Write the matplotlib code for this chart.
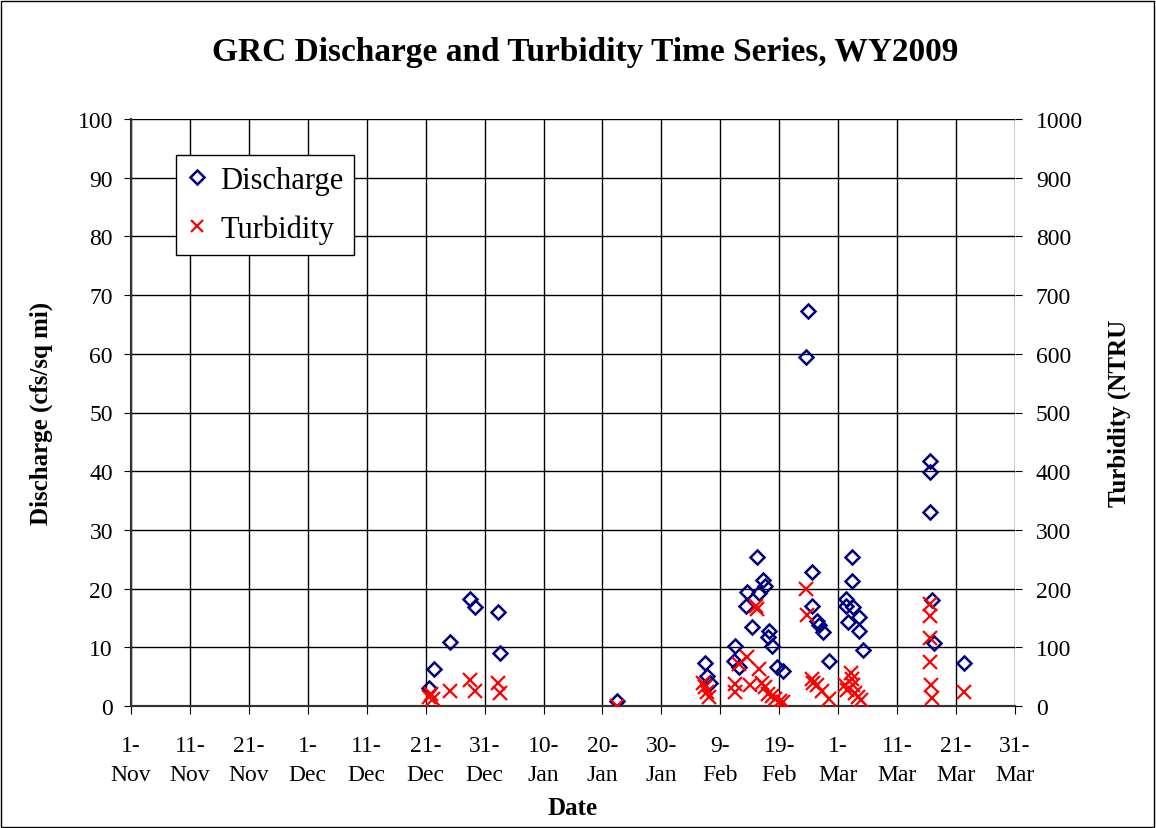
import matplotlib
matplotlib.use('Agg')
import matplotlib.pyplot as plt
from matplotlib.patches import Rectangle

plt.rcParams['font.family'] = ['Liberation Serif', 'DejaVu Serif']

# days since 1-Nov-2008
discharge_days = [50.6, 51.4, 54.2, 57.5, 58.4, 62.2, 62.6, 82.5,
                  97.4, 97.7, 98.3, 102.3, 102.5, 103.2, 104.3, 104.6, 105.3,
                  106.2, 106.6, 107.2, 107.6, 108.1, 108.3, 108.7, 109.7, 110.6,
                  114.5, 114.8, 115.5, 115.5, 116.4, 116.8, 117.4, 118.4,
                  121.3, 121.3, 121.6, 122.4, 122.4, 122.5, 123.5, 123.5, 124.2,
                  135.5, 135.5, 135.5, 135.9, 136.3, 141.3]
discharge = [3.0, 6.3, 10.9, 18.2, 16.9, 16.0, 9.0, 0.9,
             7.3, 5.1, 4.0, 7.7, 10.2, 6.6, 17.1, 19.4, 13.4,
             25.3, 19.3, 21.5, 20.4, 11.7, 12.8, 10.2, 6.7, 6.0,
             59.4, 67.3, 22.9, 17.1, 14.4, 13.8, 12.6, 7.6,
             18.3, 17.1, 14.3, 25.3, 21.3, 16.9, 15.2, 12.8, 9.5,
             41.7, 39.8, 33.0, 18.1, 10.8, 7.3]

turbidity_days = [50.5, 50.9, 51.2, 54.2, 57.5, 58.4, 62.2, 62.6, 82.5,
                  97.1, 97.4, 97.7, 98.0, 102.5, 102.5, 103.2, 104.5, 105.0,
                  106.1, 106.3, 106.5, 107.0, 107.6, 108.1, 108.7, 109.2, 110.1, 110.6,
                  114.5, 114.7, 115.5, 115.8, 116.4, 117.2, 118.4,
                  121.2, 121.5, 122.2, 122.3, 122.5, 122.9, 123.4, 123.9,
                  135.5, 135.5, 135.5, 135.5, 135.7, 135.9, 141.3]
turbidity = [15, 20, 12, 25, 44, 25, 40, 22, 0,
             40, 32, 23, 15, 37, 23, 72, 83, 35,
             171, 165, 63, 40, 32, 20, 17, 12, 9, 6,
             200, 155, 46, 40, 35, 26, 12,
             35, 27, 57, 46, 35, 22, 15, 10,
             174, 153, 115, 75, 35, 13, 23]

tick_days = list(range(0, 151, 10))
tick_labels = ['1-\nNov', '11-\nNov', '21-\nNov', '1-\nDec', '11-\nDec', '21-\nDec',
               '31-\nDec', '10-\nJan', '20-\nJan', '30-\nJan', '9-\nFeb', '19-\nFeb',
               '1-\nMar', '11-\nMar', '21-\nMar', '31-\nMar']

fig = plt.figure(figsize=(11.56, 8.29), dpi=100)
ax = fig.add_axes([131 / 1156, 1 - 707 / 829, 884 / 1156, 587 / 829])
ax2 = ax.twinx()

ax.set_xlim(0, 150)
ax.set_ylim(0, 100)
ax2.set_ylim(0, 1000)
ax.set_xticks(tick_days)
ax.set_xticklabels(tick_labels, fontsize=17, linespacing=1.5)
ax.set_yticks(range(0, 101, 10))
ax2.set_yticks(range(0, 1001, 100))
ax.tick_params(axis='y', labelsize=17, direction='out', length=5, pad=8)
ax2.tick_params(axis='y', labelsize=17, direction='out', length=5, pad=10)
ax.tick_params(axis='x', direction='out', length=6, pad=15)
ax.grid(True, color='black', lw=1)
ax.set_axisbelow(True)

for s in ['top', 'right']:
    ax.spines[s].set_visible(False)
    ax2.spines[s].set_visible(False)
for a in (ax, ax2):
    for s in a.spines.values():
        s.set_color('#333333')
        s.set_linewidth(1.5)

ax.plot(discharge_days, discharge, linestyle='none', marker='D', ms=7.5,
        mfc='none', mec='#000080', mew=1.8, label='Discharge', zorder=3)
ax2.plot(turbidity_days, turbidity, linestyle='none', marker='x', ms=10,
         color='red', mew=1.6, label='Turbidity', zorder=3)

ax.set_xlabel('Date', fontsize=18, fontweight='bold', labelpad=8)
ax.set_ylabel('Discharge (cfs/sq mi)', fontsize=18, fontweight='bold', labelpad=18)
ax2.set_ylabel('Turbidity (NTRU', fontsize=18, fontweight='bold', rotation=90, labelpad=18)
fig.text(0.506, 0.937, 'GRC Discharge and Turbidity Time Series, WY2009',
         ha='center', va='center', fontsize=24, fontweight='bold')

h1, l1 = ax.get_legend_handles_labels()
h2, l2 = ax2.get_legend_handles_labels()
leg = ax2.legend(h1 + h2, l1 + l2, loc='upper left', bbox_to_anchor=(0.051, 0.939),
                 borderaxespad=0, fontsize=22, frameon=True, fancybox=False,
                 edgecolor='black', markerscale=0.9, handlelength=0.7,
                 handletextpad=0.4, borderpad=0.35, labelspacing=0.65)
leg.get_frame().set_linewidth(1)
leg.get_frame().set_alpha(1)

fig.patches.append(Rectangle((0.001, 0.001), 0.997, 0.997, transform=fig.transFigure,
                             fill=False, edgecolor='black', lw=1))

fig.savefig('out.png', dpi=100)
